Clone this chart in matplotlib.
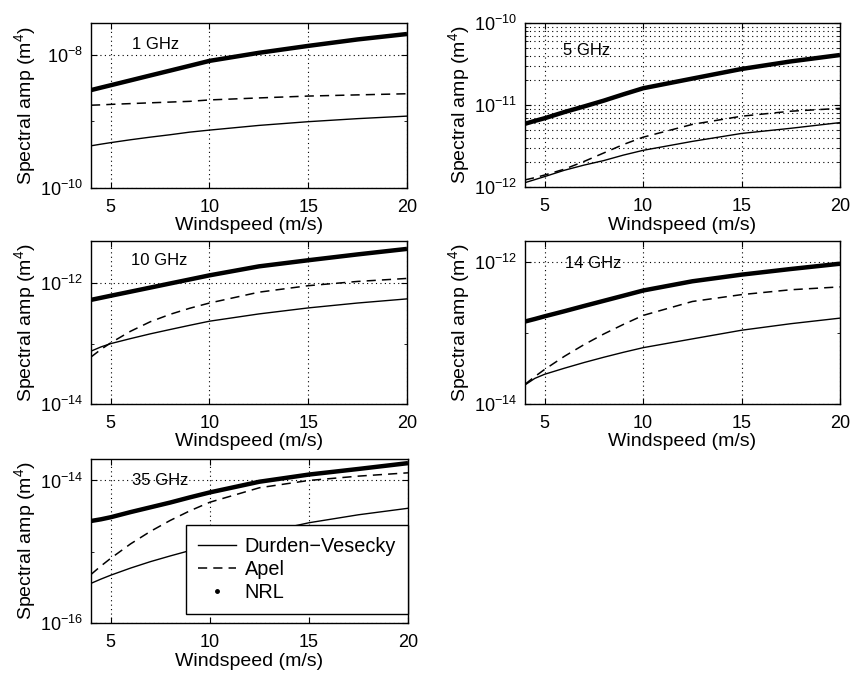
import matplotlib
matplotlib.use('Agg')
import matplotlib.pyplot as plt
from matplotlib.lines import Line2D
from matplotlib.ticker import LogLocator, NullFormatter

plt.rcParams['font.family'] = ['Liberation Sans', 'DejaVu Sans']
plt.rcParams['mathtext.fontset'] = 'custom'
plt.rcParams['mathtext.rm'] = 'Liberation Sans'
plt.rcParams['mathtext.it'] = 'Liberation Sans:italic'

# windspeed (m/s)
ws = [4, 4.5, 5, 6, 7, 8, 9, 10, 12.5, 15, 17.5, 20]

# spectral amplitude (m^4)
nrl_1 = [2.95e-9, 3.21e-9, 3.49e-9, 4.13e-9, 4.89e-9, 5.78e-9, 6.84e-9, 8.1e-9, 1.07e-8, 1.36e-8, 1.7e-8, 2.05e-8]
apel_1 = [1.75e-9, 1.77e-9, 1.8e-9, 1.85e-9, 1.9e-9, 1.95e-9, 2.0e-9, 2.1e-9, 2.25e-9, 2.4e-9, 2.5e-9, 2.6e-9]
dv_1 = [4.3e-10, 4.55e-10, 4.8e-10, 5.3e-10, 5.8e-10, 6.3e-10, 6.9e-10, 7.4e-10, 8.7e-10, 9.9e-10, 1.1e-9, 1.2e-9]

nrl_5 = [5.9e-12, 6.4e-12, 6.9e-12, 8.2e-12, 9.6e-12, 1.13e-11, 1.35e-11, 1.6e-11, 2.1e-11, 2.75e-11, 3.4e-11, 4.07e-11]
apel_5 = [1.22e-12, 1.3e-12, 1.4e-12, 1.65e-12, 2.05e-12, 2.6e-12, 3.3e-12, 4.05e-12, 5.8e-12, 7.3e-12, 8.4e-12, 9.1e-12]
dv_5 = [1.13e-12, 1.23e-12, 1.34e-12, 1.6e-12, 1.85e-12, 2.1e-12, 2.45e-12, 2.8e-12, 3.6e-12, 4.5e-12, 5.2e-12, 6.1e-12]

nrl_10 = [5.3e-13, 5.73e-13, 6.2e-13, 7.24e-13, 8.46e-13, 9.89e-13, 1.155e-12, 1.35e-12, 1.9e-12, 2.4e-12, 3.0e-12, 3.7e-12]
apel_10 = [6.0e-14, 8.0e-14, 1.03e-13, 1.6e-13, 2.3e-13, 3.05e-13, 3.85e-13, 4.7e-13, 7.1e-13, 9.1e-13, 1.07e-12, 1.2e-12]
dv_10 = [7.5e-14, 8.8e-14, 1.0e-13, 1.21e-13, 1.45e-13, 1.71e-13, 2.01e-13, 2.35e-13, 3.1e-13, 3.9e-13, 4.7e-13, 5.5e-13]

nrl_14 = [1.46e-13, 1.585e-13, 1.73e-13, 2.04e-13, 2.42e-13, 2.86e-13, 3.38e-13, 4.0e-13, 5.4e-13, 6.7e-13, 8.05e-13, 9.55e-13]
apel_14 = [1.9e-14, 2.44e-14, 3.08e-14, 4.71e-14, 6.89e-14, 9.73e-14, 1.33e-13, 1.78e-13, 2.8e-13, 3.5e-13, 4.1e-13, 4.5e-13]
dv_14 = [1.86e-14, 2.3e-14, 2.63e-14, 3.2e-14, 3.85e-14, 4.57e-14, 5.37e-14, 6.24e-14, 8.3e-14, 1.1e-13, 1.36e-13, 1.63e-13]

nrl_35 = [2.7e-15, 2.85e-15, 3.05e-15, 3.6e-15, 4.2e-15, 4.9e-15, 5.8e-15, 6.8e-15, 9.6e-15, 1.21e-14, 1.45e-14, 1.75e-14]
apel_35 = [4.8e-16, 6.3e-16, 8.1e-16, 1.29e-15, 1.93e-15, 2.75e-15, 3.76e-15, 4.95e-15, 7.9e-15, 1.0e-14, 1.15e-14, 1.28e-14]
dv_35 = [3.6e-16, 4.13e-16, 4.69e-16, 5.9e-16, 7.26e-16, 8.73e-16, 1.04e-15, 1.22e-15, 1.8e-15, 2.55e-15, 3.3e-15, 4.07e-15]

labels = ['1 GHz', '5 GHz', '10 GHz', '14 GHz', '35 GHz']
ylims = [(1e-10, 3e-8), (1e-12, 1e-10), (1e-14, 5e-12), (1e-14, 2e-12), (1e-16, 2e-14)]
yticks = [[1e-10, 1e-8], [1e-12, 1e-11, 1e-10], [1e-14, 1e-12], [1e-14, 1e-12], [1e-16, 1e-14]]
ytick_labels = [['$10^{-10}$', '$10^{-8}$'],
                ['$10^{-12}$', '$10^{-11}$', '$10^{-10}$'],
                ['$10^{-14}$', '$10^{-12}$'],
                ['$10^{-14}$', '$10^{-12}$'],
                ['$10^{-16}$', '$10^{-14}$']]
nrl_all = [nrl_1, nrl_5, nrl_10, nrl_14, nrl_35]
apel_all = [apel_1, apel_5, apel_10, apel_14, apel_35]
dv_all = [dv_1, dv_5, dv_10, dv_14, dv_35]

W, H = 854, 677
# pixel boxes (left, right, top, bottom)
boxes = [(91, 407, 23, 188), (525, 840, 23, 187), (91, 407, 241, 404),
         (525, 840, 241, 404), (91, 408, 459, 623)]
label_pos = [(0.13, 0.87), (0.12, 0.835), (0.127, 0.88), (0.127, 0.865), (0.13, 0.866)]

fig = plt.figure(figsize=(W / 100, H / 100), dpi=100)

for i in range(5):
    l, r, t, b = boxes[i]
    ax = fig.add_axes([l / W, 1 - b / H, (r - l) / W, (b - t) / H])
    ax.set_yscale('log')
    ax.plot(ws, dv_all[i], color='black', lw=1.0)
    ax.plot(ws, apel_all[i], color='black', lw=1.1, dashes=(6, 4))
    ax.plot(ws, nrl_all[i], color='black', lw=3.2, solid_capstyle='butt')
    ax.set_xlim(4, 20)
    ax.set_ylim(*ylims[i])
    ax.set_xticks([5, 10, 15, 20])
    ax.set_yticks(yticks[i])
    ax.set_yticklabels(ytick_labels[i])
    if i == 1:
        ax.yaxis.set_minor_locator(LogLocator(base=10, subs=range(2, 10), numticks=20))
        ax.yaxis.set_minor_formatter(NullFormatter())
        ax.grid(True, which='both', axis='y', color='black', ls=(0, (1, 3)), lw=0.8)
        ax.grid(True, which='major', axis='x', color='black', ls=(0, (1, 3)), lw=0.8)
    else:
        ax.yaxis.set_minor_locator(LogLocator(base=10, subs=[1.0], numticks=20))
        ax.yaxis.set_minor_formatter(NullFormatter())
        ax.grid(True, which='major', color='black', ls=(0, (1, 3)), lw=0.8)
    ax.tick_params(which='both', direction='in', top=True, right=True, labelsize=13)
    ax.tick_params(which='major', length=4)
    ax.tick_params(which='minor', length=2)
    ax.tick_params(axis='x', which='major', pad=8)
    ax.tick_params(axis='y', which='major', pad=6)
    for s in ax.spines.values():
        s.set_linewidth(1.0)
    ax.set_xlabel('Windspeed (m/s)', fontsize=14, labelpad=1)
    ax.set_ylabel('Spectral amp (m$^4$)', fontsize=14, labelpad=1)
    ax.text(label_pos[i][0], label_pos[i][1], labels[i], transform=ax.transAxes,
            fontsize=12, va='center', ha='left')
    if i == 4:
        handles = [Line2D([], [], color='black', lw=1.0),
                   Line2D([], [], color='black', lw=1.1, dashes=(6, 4)),
                   Line2D([], [], color='black', ls='none', marker='.', markersize=5)]
        leg = ax.legend(handles, ['Durden\u2212Vesecky', 'Apel', 'NRL'],
                        loc='lower right', bbox_to_anchor=(1.0, 0.055),
                        borderaxespad=0, fontsize=14.3, fancybox=False,
                        edgecolor='black', framealpha=1, handlelength=1.9,
                        labelspacing=0.2, borderpad=0.6, handletextpad=0.45)
        leg.get_frame().set_linewidth(1.0)

fig.savefig('out.png', dpi=100)
